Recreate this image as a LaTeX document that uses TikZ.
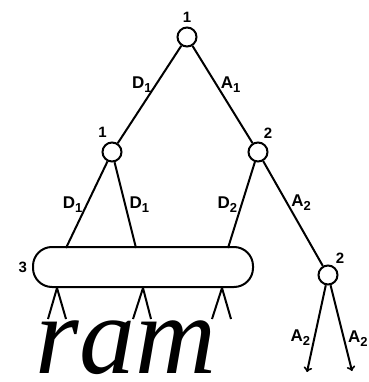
\documentclass[tikz,border=0pt]{standalone}
\usepackage{fontspec}
\setmainfont{Liberation Serif}
\newfontfamily\lblfont{Liberation Sans}
\newcommand{\lsub}[1]{\raisebox{-0.45ex}{\fontsize{13}{13}\selectfont #1}}

\begin{document}
\begin{tikzpicture}
[x=1pt, y=-1pt, line width=2pt,
 every node/.style={font=\lblfont\bfseries\fontsize{17}{17}\selectfont},
 every label/.style={font=\lblfont\bfseries\fontsize{15}{15}\selectfont, inner sep=1pt},
 knot/.style={shape=circle, draw, minimum size=19pt, inner sep=0pt}]
\clip (0,0) rectangle (368,382);
\node (1) at (187,37) [knot, label={[label distance=2pt]above:1}] {};
\node (2) at (112,152) [knot, label={[label distance=2pt]105:1}] {};
\node (3) at (258,152) [knot, label={[label distance=2pt]72:2}] {};
\node (4) at (143,267) [draw, rounded corners=19pt, minimum width=220pt, minimum height=40pt,
                        label={[label distance=3pt]left:3}] {};
\node (5) at (328,275) [knot, label={[label distance=1pt]60:2}] {};
\node (6) at (126,373) [anchor=base, inner sep=0pt, text depth=0pt,
                        font=\rmfamily\itshape\fontsize{112}{112}\selectfont] {ram};
% where the edges meet the oval
\coordinate (4a) at (66,248);
\coordinate (4b) at (136,248);
\coordinate (4c) at (228,248);
% forks under the oval
\coordinate (f1) at (57,288);  \coordinate (f1l) at (48,319);  \coordinate (f1r) at (66,319);
\coordinate (f2) at (143,288); \coordinate (f2l) at (133,319); \coordinate (f2r) at (151,319);
\coordinate (f3) at (222,288); \coordinate (f3l) at (212,319); \coordinate (f3r) at (231,319);
% arrow ends
\coordinate (e1) at (307,372);
\coordinate (e2) at (352,371);
\draw (1) edge node[left, pos=.4] {D\lsub{1}} (2);
\draw (1) edge node[right, pos=.4] {A\lsub{1}} (3);
\draw (2) edge node[left, pos=.5] {D\lsub{1}} (4a);
\draw (2) edge node[right, pos=.5] {D\lsub{1}} (4b);
\draw (3) edge node[left, pos=.5] {D\lsub{2}} (4c);
\draw (3) edge node[right, pos=.4] {A\lsub{2}} (5);
\draw (f1) -- (f1l) (f1) -- (f1r);
\draw (f2) -- (f2l) (f2) -- (f2r);
\draw (f3) -- (f3l) (f3) -- (f3r);
\draw [->] (5) edge node[left, pos=.6] {A\lsub{2}} (e1);
\draw [->] (5) edge node[right, pos=.62] {A\lsub{2}} (e2);
\end{tikzpicture}
\end{document}
